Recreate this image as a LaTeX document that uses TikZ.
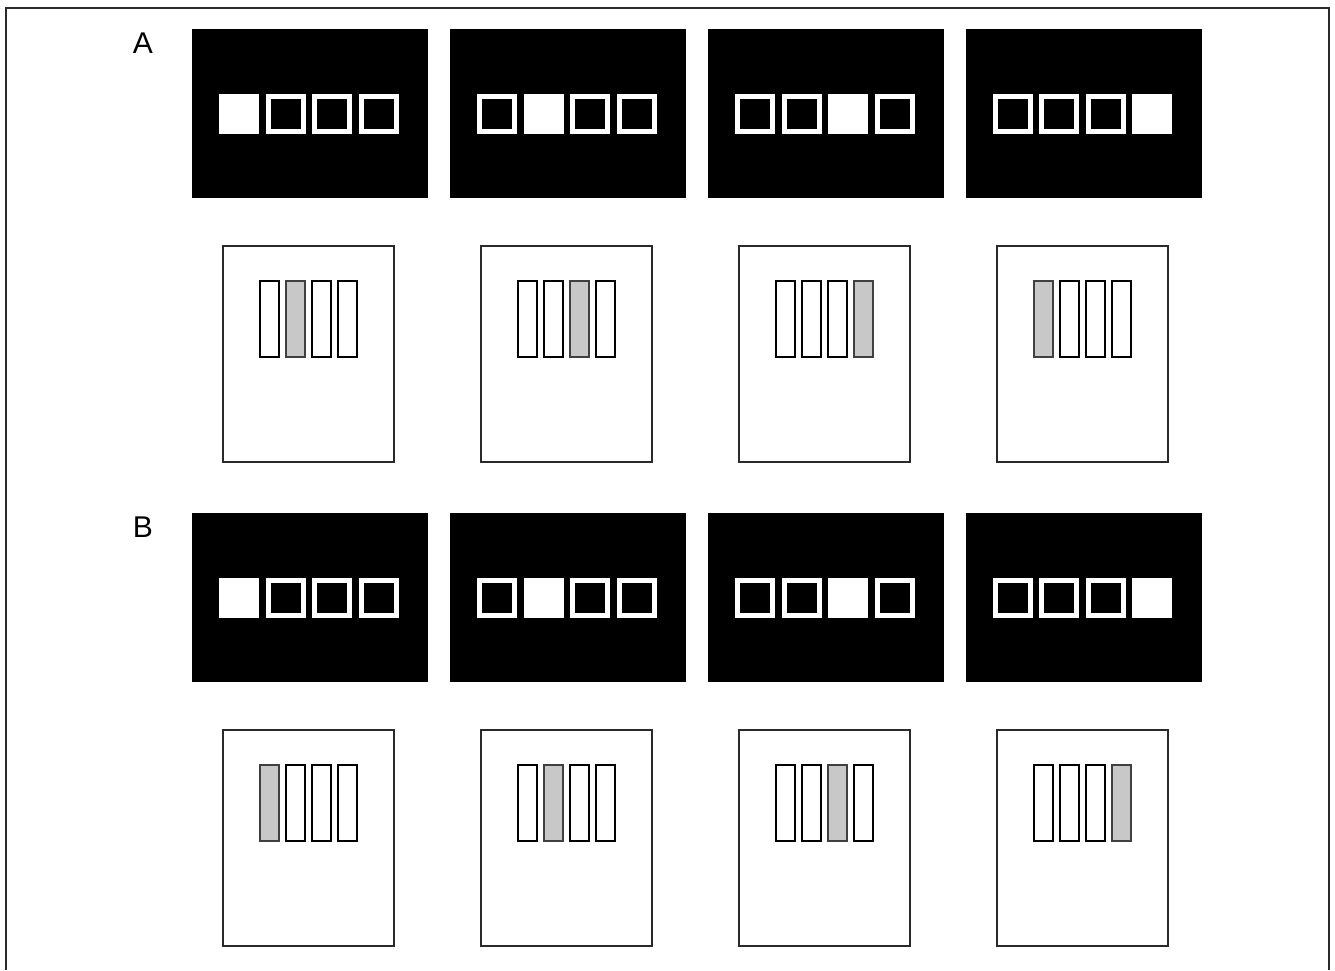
\documentclass[tikz,border=0pt]{standalone}
\usepackage{fontspec}
\setmainfont{Liberation Sans}
\usetikzlibrary{positioning}
\definecolor{cuegray}{HTML}{C8C8C8}
\definecolor{framegray}{HTML}{2A2A2A}
\tikzset{
  screen/.style={
    minimum width=236pt,
    minimum height=169pt,
    fill=black,
    inner sep=0pt,
  },
  card/.style={
    minimum width=171pt,
    minimum height=216pt,
    draw=framegray,
    fill=white,
    line width=1.6pt,
    inner sep=0pt,
  },
  place0/.style={
    minimum size=35pt,
    draw=white,
    fill=black,
    line width=5pt,
    inner sep=0pt,
  },
  place1/.style={place0, fill=white},
  slot0/.style={
    minimum width=19pt,
    minimum height=76pt,
    draw=black,
    fill=white,
    line width=2pt,
    inner sep=0pt,
  },
  slot1/.style={slot0, draw=black!75, fill=cuegray},
  panel label/.style={
    font=\fontsize{30}{34}\selectfont,
    inner sep=0pt,
  },
}

\begin{document}
\begin{tikzpicture}[x=1pt, y=-1pt, node distance=21.5pt]
  \useasboundingbox (0,0) rectangle (1335,970);
  \draw[line width=2pt, draw=framegray] (6,970) -- (6,8) -- (1329,8) -- (1329,970);

  % upper display row and its response cards
  \node[screen] (scrA1) at (310,113.5) {};
  \node[screen, right=of scrA1] (scrA2) {};
  \node[screen, right=of scrA2] (scrA3) {};
  \node[screen, right=of scrA3] (scrA4) {};

  \node[card, below=47pt of scrA1, xshift=-1.5pt] (cardA1) {};
  \node[card, below=47pt of scrA2, xshift=-1.5pt] (cardA2) {};
  \node[card, below=47pt of scrA3, xshift=-1.5pt] (cardA3) {};
  \node[card, below=47pt of scrA4, xshift=-1.5pt] (cardA4) {};

  % lower display row and its response cards
  \node[screen, below=50pt of cardA1, xshift=1.5pt] (scrB1) {};
  \node[screen, right=of scrB1] (scrB2) {};
  \node[screen, right=of scrB2] (scrB3) {};
  \node[screen, right=of scrB3] (scrB4) {};

  \node[card, below=47pt of scrB1, xshift=-1.5pt] (cardB1) {};
  \node[card, below=47pt of scrB2, xshift=-1.5pt] (cardB2) {};
  \node[card, below=47pt of scrB3, xshift=-1.5pt] (cardB3) {};
  \node[card, below=47pt of scrB4, xshift=-1.5pt] (cardB4) {};

  \node[panel label] (labA) at (143,43) {A};
  \node[panel label] (labB) at (143,527) {B};

  % placeholders (lit one = column), bars (grey one = cue)
  \foreach \r/\c/\cue in {A/1/2, A/2/3, A/3/4, A/4/1, B/1/1, B/2/2, B/3/3, B/4/4}{
    \foreach \k in {1,...,4}{
      \pgfmathtruncatemacro\lit{\k==\c}
      \pgfmathtruncatemacro\cued{\k==\cue}
      \node[place\lit] (sq\r\c\k) at ([xshift={(\k-2.5)*46.5pt - 1pt}]scr\r\c.center) {};
      \node[slot\cued] (bar\r\c\k) at ([xshift={(\k-2.5)*26pt}, yshift=35pt]card\r\c.center) {};
    }
  }
\end{tikzpicture}
\end{document}
